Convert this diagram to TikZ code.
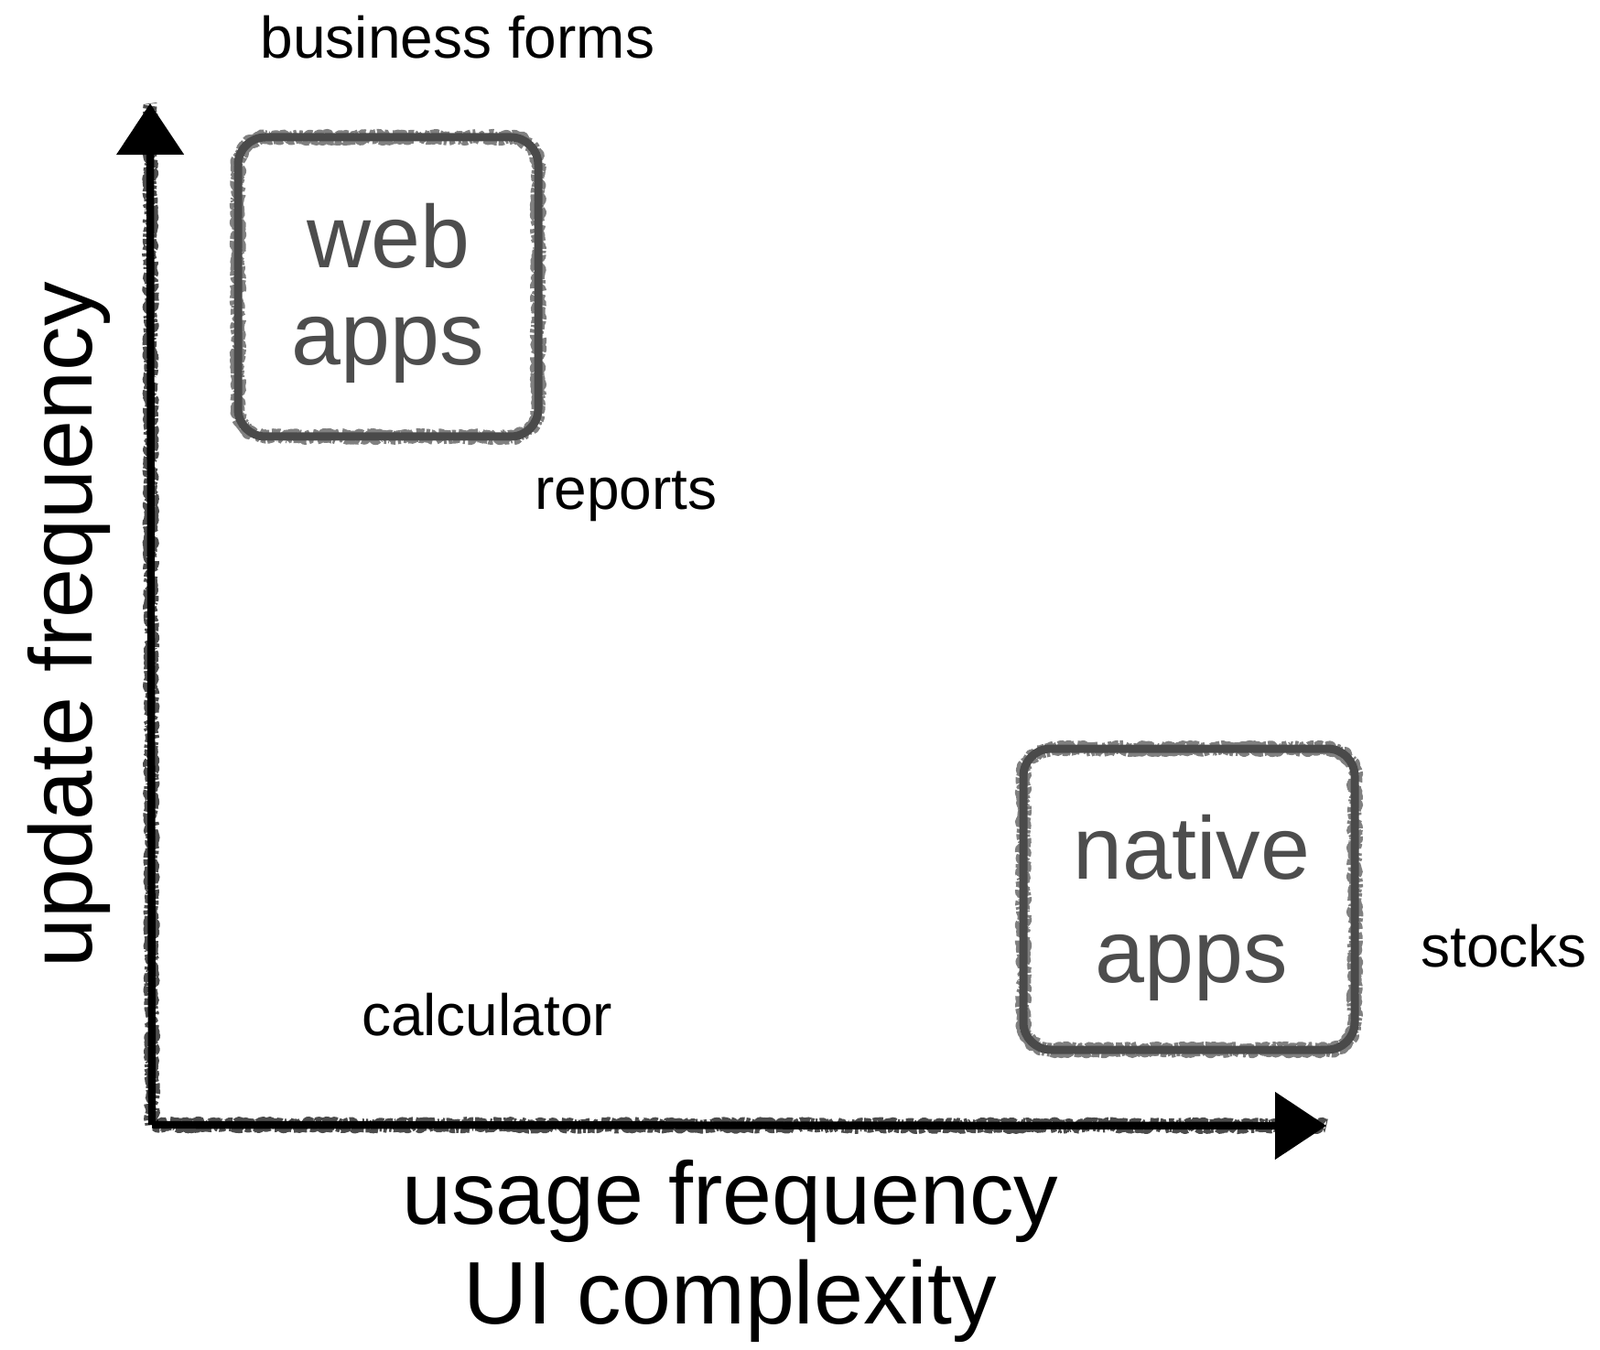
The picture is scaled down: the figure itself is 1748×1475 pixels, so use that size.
\documentclass[tikz,border=0pt]{standalone}
\usepackage{fontspec}
\setmainfont{Liberation Sans}
\usetikzlibrary{arrows.meta,decorations.pathmorphing}
\definecolor{boxgray}{HTML}{4A4A4A}
\definecolor{textgray}{HTML}{4D4D4D}

\begin{document}
\begin{tikzpicture}[x=0.5pt, y=-0.5pt,
        rough/.style={preaction={draw=#1, -, sharp corners, decorate, decoration={random steps, segment length=1.3pt, amplitude=0.9pt}, line width=7.5pt, line join=round, dash pattern=on 1.8pt off 1pt, opacity=0.7}},
        appbox/.style={rectangle, rounded corners=15pt, draw=boxgray, line width=4.5pt, rough=boxgray},
        axis/.style={line width=4.2pt, -{Triangle[length=28pt,width=36pt]}},
        big/.style={font=\fontsize{48.5}{53}\selectfont},
        small/.style={font=\fontsize{32}{38}\selectfont, anchor=base}
    ]
        \useasboundingbox (0,0) rectangle (1748,1475);

        % Axes
        \coordinate (origin) at (166,1229);
        \coordinate (ytop) at (164,113);
        \coordinate (xend) at (1449,1230);
        \draw[axis, rough=black] (origin) -- (ytop);
        \draw[axis, rough=black] (origin) -- (xend);

        % Axis labels
        \node[big, rotate=90, anchor=base] (updfreq) at (100,683) {update frequency};
        \node[big, align=center, font=\fontsize{48.5}{54.5}\selectfont] (usage) at (798,1367) {usage frequency\\UI complexity};

        % Top left box - web apps
        \node[appbox, minimum width=164pt, minimum height=163.5pt] (webbox) at (424,313.5) {};
        \node[big, text=textgray, align=center] (webtext) at (424,320) {web\\apps};

        % Bottom right box - native apps
        \node[appbox, minimum width=181pt, minimum height=164.5pt] (nativebox) at (1299,982.5) {};
        \node[big, text=textgray, align=center, font=\fontsize{48.5}{56.5}\selectfont] (nativetext) at (1302,992) {native\\apps};

        % Examples
        \node[small] (business) at (500,64) {business forms};
        \node[small] (reports) at (684,557) {reports};
        \node[small] (calculator) at (532,1131) {calculator};
        \node[small] (stocks) at (1643,1056) {stocks};
    \end{tikzpicture}
\end{document}
